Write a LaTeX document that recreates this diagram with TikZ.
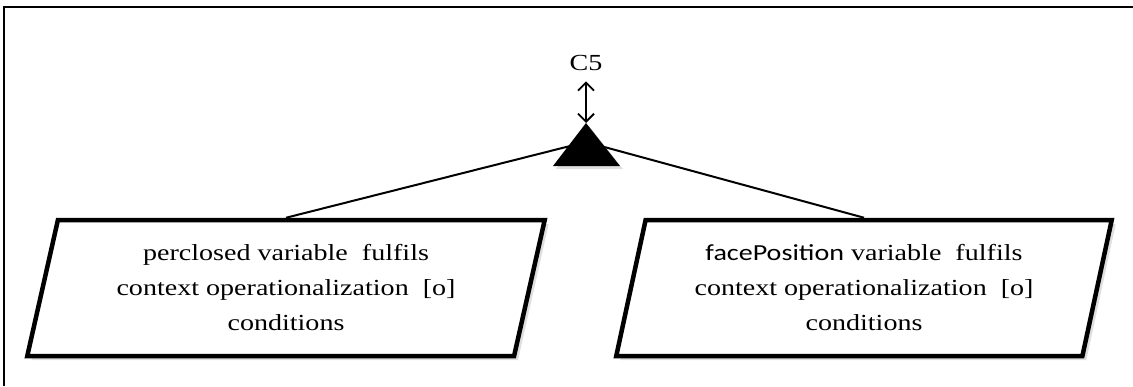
\documentclass[tikz,border=0pt]{standalone}
\usepackage{fontspec}
\setmainfont{Liberation Serif}[Ligatures=NoCommon]
\newfontfamily\calibri{Carlito}
\usepackage{tikz}
\usetikzlibrary{shapes.geometric}
\usetikzlibrary{arrows.meta}
\usetikzlibrary{shadows}

% wide lettering used in all labels
\newcommand{\wide}[1]{\scalebox{1.22}[1]{#1}}

\begin{document}
\begin{tikzpicture}[x=1pt,y=-1pt,
    condition/.style = {draw, line width=4.5pt, fill=white, trapezium, trapezium left angle=76,
        trapezium right angle=104, trapezium stretches=true, minimum height=136pt,
        align=center, font=\fontsize{23}{35}\selectfont,
        drop shadow={shadow xshift=4pt, shadow yshift=-4pt, opacity=0.25}},
    link/.style = {line width=2pt}]
    \useasboundingbox (0,0) rectangle (1133,386);
    {
    % frame
    \draw[line width=2.5pt] (4,386) -- (4,7) -- (1133,7);

    \node[align = center](goal) at (586,63) {\fontsize{23}{28}\selectfont\wide{C5}};
    \coordinate (apex) at (586,123);
    \coordinate (hub) at (586,142);

    \node[condition, minimum width=518pt](perclosedCond) at (286,288)
        {\wide{perclosed variable\ \ fulfils}\\\wide{context operationalization\ \ [o]}\\\wide{conditions}};
    \node[condition, minimum width=496pt](facePositionCond) at (864,288)
        {\wide{{\calibri facePosition} variable\ \ fulfils}\\\wide{context operationalization\ \ [o]}\\\wide{conditions}};

    \draw [link] (hub) -- (perclosedCond.north);
    \draw [link] (hub) -- (facePositionCond.north);

    % and-refinement
    \fill[drop shadow={shadow xshift=3pt, shadow yshift=-3pt, opacity=0.25}]
        (apex) -- (620,166) -- (553,166) -- cycle;

    \draw [{Straight Barb[length=8pt,width=16pt]}-{Straight Barb[length=8pt,width=16pt]},line width=1.8pt]
        (goal.south) ++(0,7) -- (apex);
    }
\end{tikzpicture}
\end{document}
